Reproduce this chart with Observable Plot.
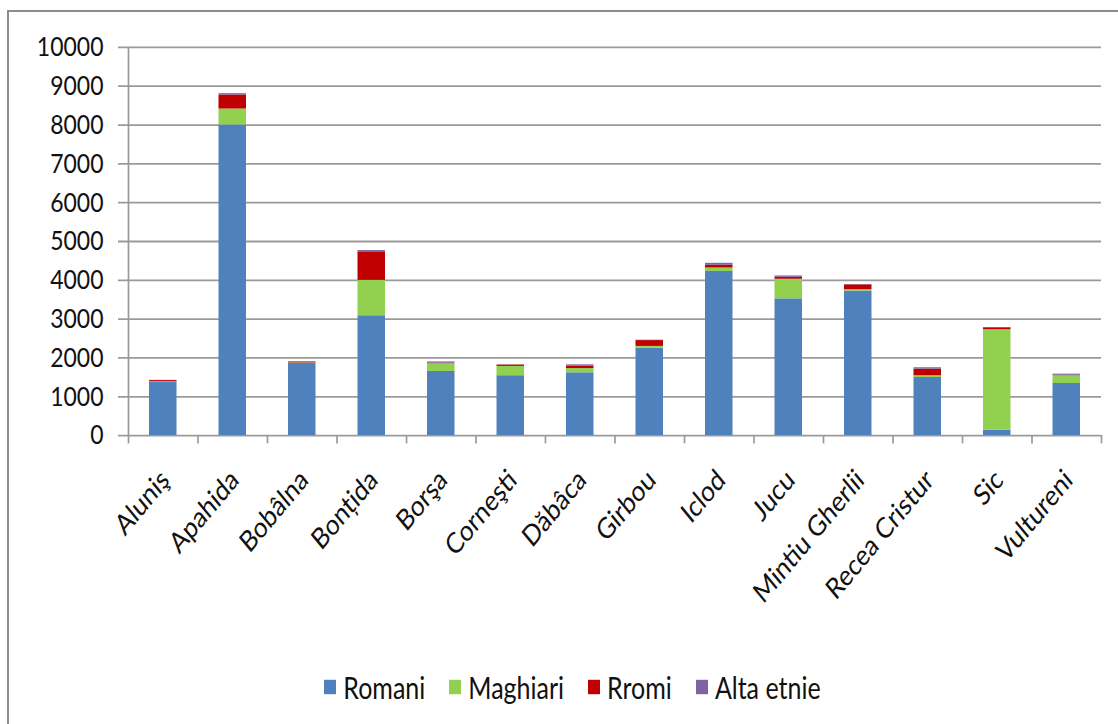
<!DOCTYPE html>
<html>
<head>
<meta charset="utf-8">
<script src="https://cdn.jsdelivr.net/npm/d3@7"></script>
<script src="https://cdn.jsdelivr.net/npm/@observablehq/plot@0.6"></script>
<style>
  html, body { margin: 0; padding: 0; background: #fff; width: 1118px; height: 724px; overflow: hidden; position: relative; font-family: Lato, "Open Sans", sans-serif; }
  #border { position: absolute; left: 7px; top: 10px; width: 1300px; height: 900px; border-top: 2.5px solid #8c8c8c; border-left: 2.5px solid #8c8c8c; }
  #chart { position: absolute; left: 0; top: 0; transform: scale(1, 1.2); transform-origin: 0 0; }
  #legend { position: absolute; top: 672px; left: 0; width: 1145px; display: flex; justify-content: center; gap: 24px; font-size: 25px; color: #111; transform: scale(1, 1.2); transform-origin: 0 50%; }
  .item { display: flex; align-items: center; gap: 7px; }
  .sw { width: 12px; height: 12px; display: inline-block; }
</style>
</head>
<body>
<div id="border"></div>
<div id="chart"></div>
<div id="legend"></div>
<script>
const places = ["Aluniş", "Apahida", "Bobâlna", "Bonțida", "Borşa", "Corneşti", "Dăbâca", "Girbou", "Iclod", "Jucu", "Mintiu Gherlii", "Recea Cristur", "Sic", "Vultureni"];
const romani   = [1375, 8000, 1860, 3085, 1650, 1540, 1615, 2250, 4225, 3520, 3720, 1495, 135, 1340];
const maghiari = [10,   410,  10,   910,  200,  240,  110,  45,   90,   505,  35,   45,   2590, 200];
const rromi    = [30,   360,  25,   720,  15,   35,   60,   150,  70,   50,   125,  170,  50,   10];
const alta     = [5,    36,   5,    50,   30,   5,    35,   10,   50,   35,   10,   35,   5,    30];
const ethnicities = ["Romani", "Maghiari", "Rromi", "Alta etnie"];
const colors = ["#4F81BD", "#92D050", "#C00000", "#8064A2"];
const yTicks = [0, 1000, 2000, 3000, 4000, 5000, 6000, 7000, 8000, 9000, 10000];

const series = [romani, maghiari, rromi, alta];
const data = places.flatMap((p, i) => series.map((arr, k) => ({i, place: p, eth: ethnicities[k], value: arr[i]})));
const boundaries = places.map((_, i) => i).concat([places.length]);
const centers = places.map((_, i) => i + 0.5);

const chart = Plot.plot({
  width: 1118,
  height: 533,
  marginLeft: 128,
  marginRight: 17,
  marginTop: 39,
  marginBottom: 170.5,
  x: {type: "linear", domain: [0, places.length], axis: null, label: null},
  y: {domain: [0, 10000], axis: null, label: null},
  color: {domain: ethnicities, range: colors},
  style: {fontFamily: "Lato, 'Open Sans', sans-serif", fontSize: "23px", color: "#111", background: "transparent", overflow: "visible"},
  marks: [
    Plot.ruleY(yTicks, {stroke: "#9a9a9a", strokeWidth: 1.5, strokeOpacity: 1, insetLeft: -10}),
    Plot.axisY({ticks: yTicks, tickSize: 0, tickPadding: 25, tickFormat: d => String(d), fontSize: 23, label: null}),
    Plot.rectY(data, {x: "i", interval: 1, y: "value", fill: "eth", insetLeft: 21, insetRight: 21, order: ethnicities}),
    Plot.ruleX([0], {stroke: "#9a9a9a", strokeWidth: 1.7}),
    Plot.axisX({ticks: boundaries, tickSize: 7, tickFormat: () => "", stroke: "#9a9a9a", strokeWidth: 1.7, strokeOpacity: 1, label: null}),
    Plot.axisX({ticks: centers, tickSize: 0, tickPadding: 33, tickRotate: -45, dx: 2, fontSize: 24, label: null, tickFormat: d => places[Math.floor(d)]})
  ]
});
document.getElementById("chart").appendChild(chart);

const legend = document.getElementById("legend");
ethnicities.forEach((e, k) => {
  const it = document.createElement("div");
  it.className = "item";
  const sw = document.createElement("span");
  sw.className = "sw";
  sw.style.background = colors[k];
  const t = document.createElement("span");
  t.textContent = e;
  it.appendChild(sw);
  it.appendChild(t);
  legend.appendChild(it);
});
</script>
</body>
</html>
